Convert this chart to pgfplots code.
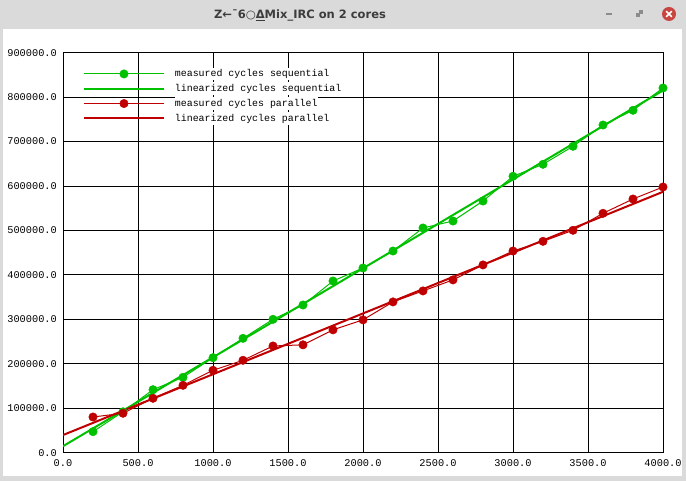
\documentclass[border=0pt]{standalone}
\usepackage{fontspec}
\setmainfont{DejaVu Sans}
\setmonofont{Liberation Mono}
\usepackage{pgfplots}
\pgfplotsset{compat=1.18}
\definecolor{seqgreen}{RGB}{0,192,0}
\definecolor{parred}{RGB}{192,0,0}
\definecolor{wingray}{RGB}{218,218,218}
\definecolor{titlegray}{RGB}{60,60,60}
\definecolor{closered}{RGB}{200,70,65}
\definecolor{icongray}{RGB}{140,140,140}
\begin{document}
\begin{tikzpicture}
\useasboundingbox (0pt,0pt) rectangle (686pt,481pt);
\fill[wingray] (0pt,0pt) rectangle (686pt,481pt);
\fill[white] (3pt,5pt) rectangle (682pt,452pt);
\node[font=\fontsize{11.5}{13}\selectfont\bfseries, text=titlegray] at (300pt,465.5pt) {Z←¯6○\underline{Δ}Mix\_IRC on 2 cores};
\fill[closered] (669pt,467pt) circle (7pt);
\draw[white, line width=1.6pt] (666.2pt,464.2pt) -- (671.8pt,469.8pt) (666.2pt,469.8pt) -- (671.8pt,464.2pt);
\draw[icongray, line width=1.5pt] (606pt,467pt) -- (612pt,467pt);
\fill[icongray] (635.5pt,463.5pt) rectangle (639.5pt,467.5pt);
\fill[icongray] (638.5pt,466.5pt) rectangle (642.5pt,470.5pt);
\begin{axis}[
  at={(63pt,28.3pt)}, anchor=south west,
  scale only axis, width=600pt, height=400pt,
  xmin=0, xmax=4000, ymin=0, ymax=900000,
  xtick={0,500,...,4000},
  ytick={0,100000,200000,300000,400000,500000,600000,700000,800000,900000},
  scaled ticks=false,
  grid=major,
  major grid style={black, line width=1pt},
  axis line style={black, line width=1pt},
  tick style={black, line width=1pt},
  major tick length=5pt,
  tick label style={font=\ttfamily\fontsize{10.3}{12}\selectfont, inner sep=0pt,
    /pgf/number format/fixed, /pgf/number format/fixed zerofill,
    /pgf/number format/precision=1, /pgf/number format/1000 sep={},
    /pgf/number format/assume math mode=true},
  yticklabel style={xshift=-6pt},
  xticklabel style={yshift=-7pt},
  legend style={at={(0.0333,0.9625)}, anchor=north west, draw=none, fill=none,
    inner sep=0pt, outer sep=0pt, row sep=2.3pt, column sep=10pt,
    font=\ttfamily\fontsize{9.9}{12}\selectfont,
    nodes={inner sep=0pt, text height=9pt, text depth=3.5pt},
    /tikz/column 2/.style={nodes={fill=white}}},
  legend cell align=left,
  legend image code/.code={\draw[mark repeat=2, mark phase=2, #1] plot coordinates {(0pt,0pt) (40pt,0pt) (80pt,0pt)};},
]
\addplot[seqgreen, line width=1pt, mark=*, mark size=4.2pt, mark options={fill=seqgreen, draw=seqgreen, line width=0.5pt}] coordinates {
(200,47300) (400,92000) (600,141800) (800,169600) (1000,213800) (1200,257300) (1400,300100) (1600,332300) (1800,386300) (2000,415600)
(2200,453800) (2400,505600) (2600,521300) (2800,566300) (3000,621900) (3200,648900) (3400,689400) (3600,737300) (3800,770400) (4000,820600)};
\addlegendentry{measured cycles sequential}
\addplot[seqgreen, line width=2pt] coordinates {(0,14600) (4000,815000)};
\addlegendentry{linearized cycles sequential}
\addplot[parred, line width=1pt, mark=*, mark size=4.2pt, mark options={fill=parred, draw=parred, line width=0.5pt}] coordinates {
(200,80300) (400,88700) (600,122400) (800,151600) (1000,185400) (1200,207900) (1400,240100) (1600,242700) (1800,276400) (2000,298900)
(2200,339300) (2400,364000) (2600,388800) (2800,422500) (3000,453800) (3200,475600) (3400,500400) (3600,538600) (3800,570800) (4000,597800)};
\addlegendentry{measured cycles parallel}
\addplot[parred, line width=2pt] coordinates {(0,39700) (4000,587000)};
\addlegendentry{linearized cycles parallel}
\end{axis}
\end{tikzpicture}
\end{document}
